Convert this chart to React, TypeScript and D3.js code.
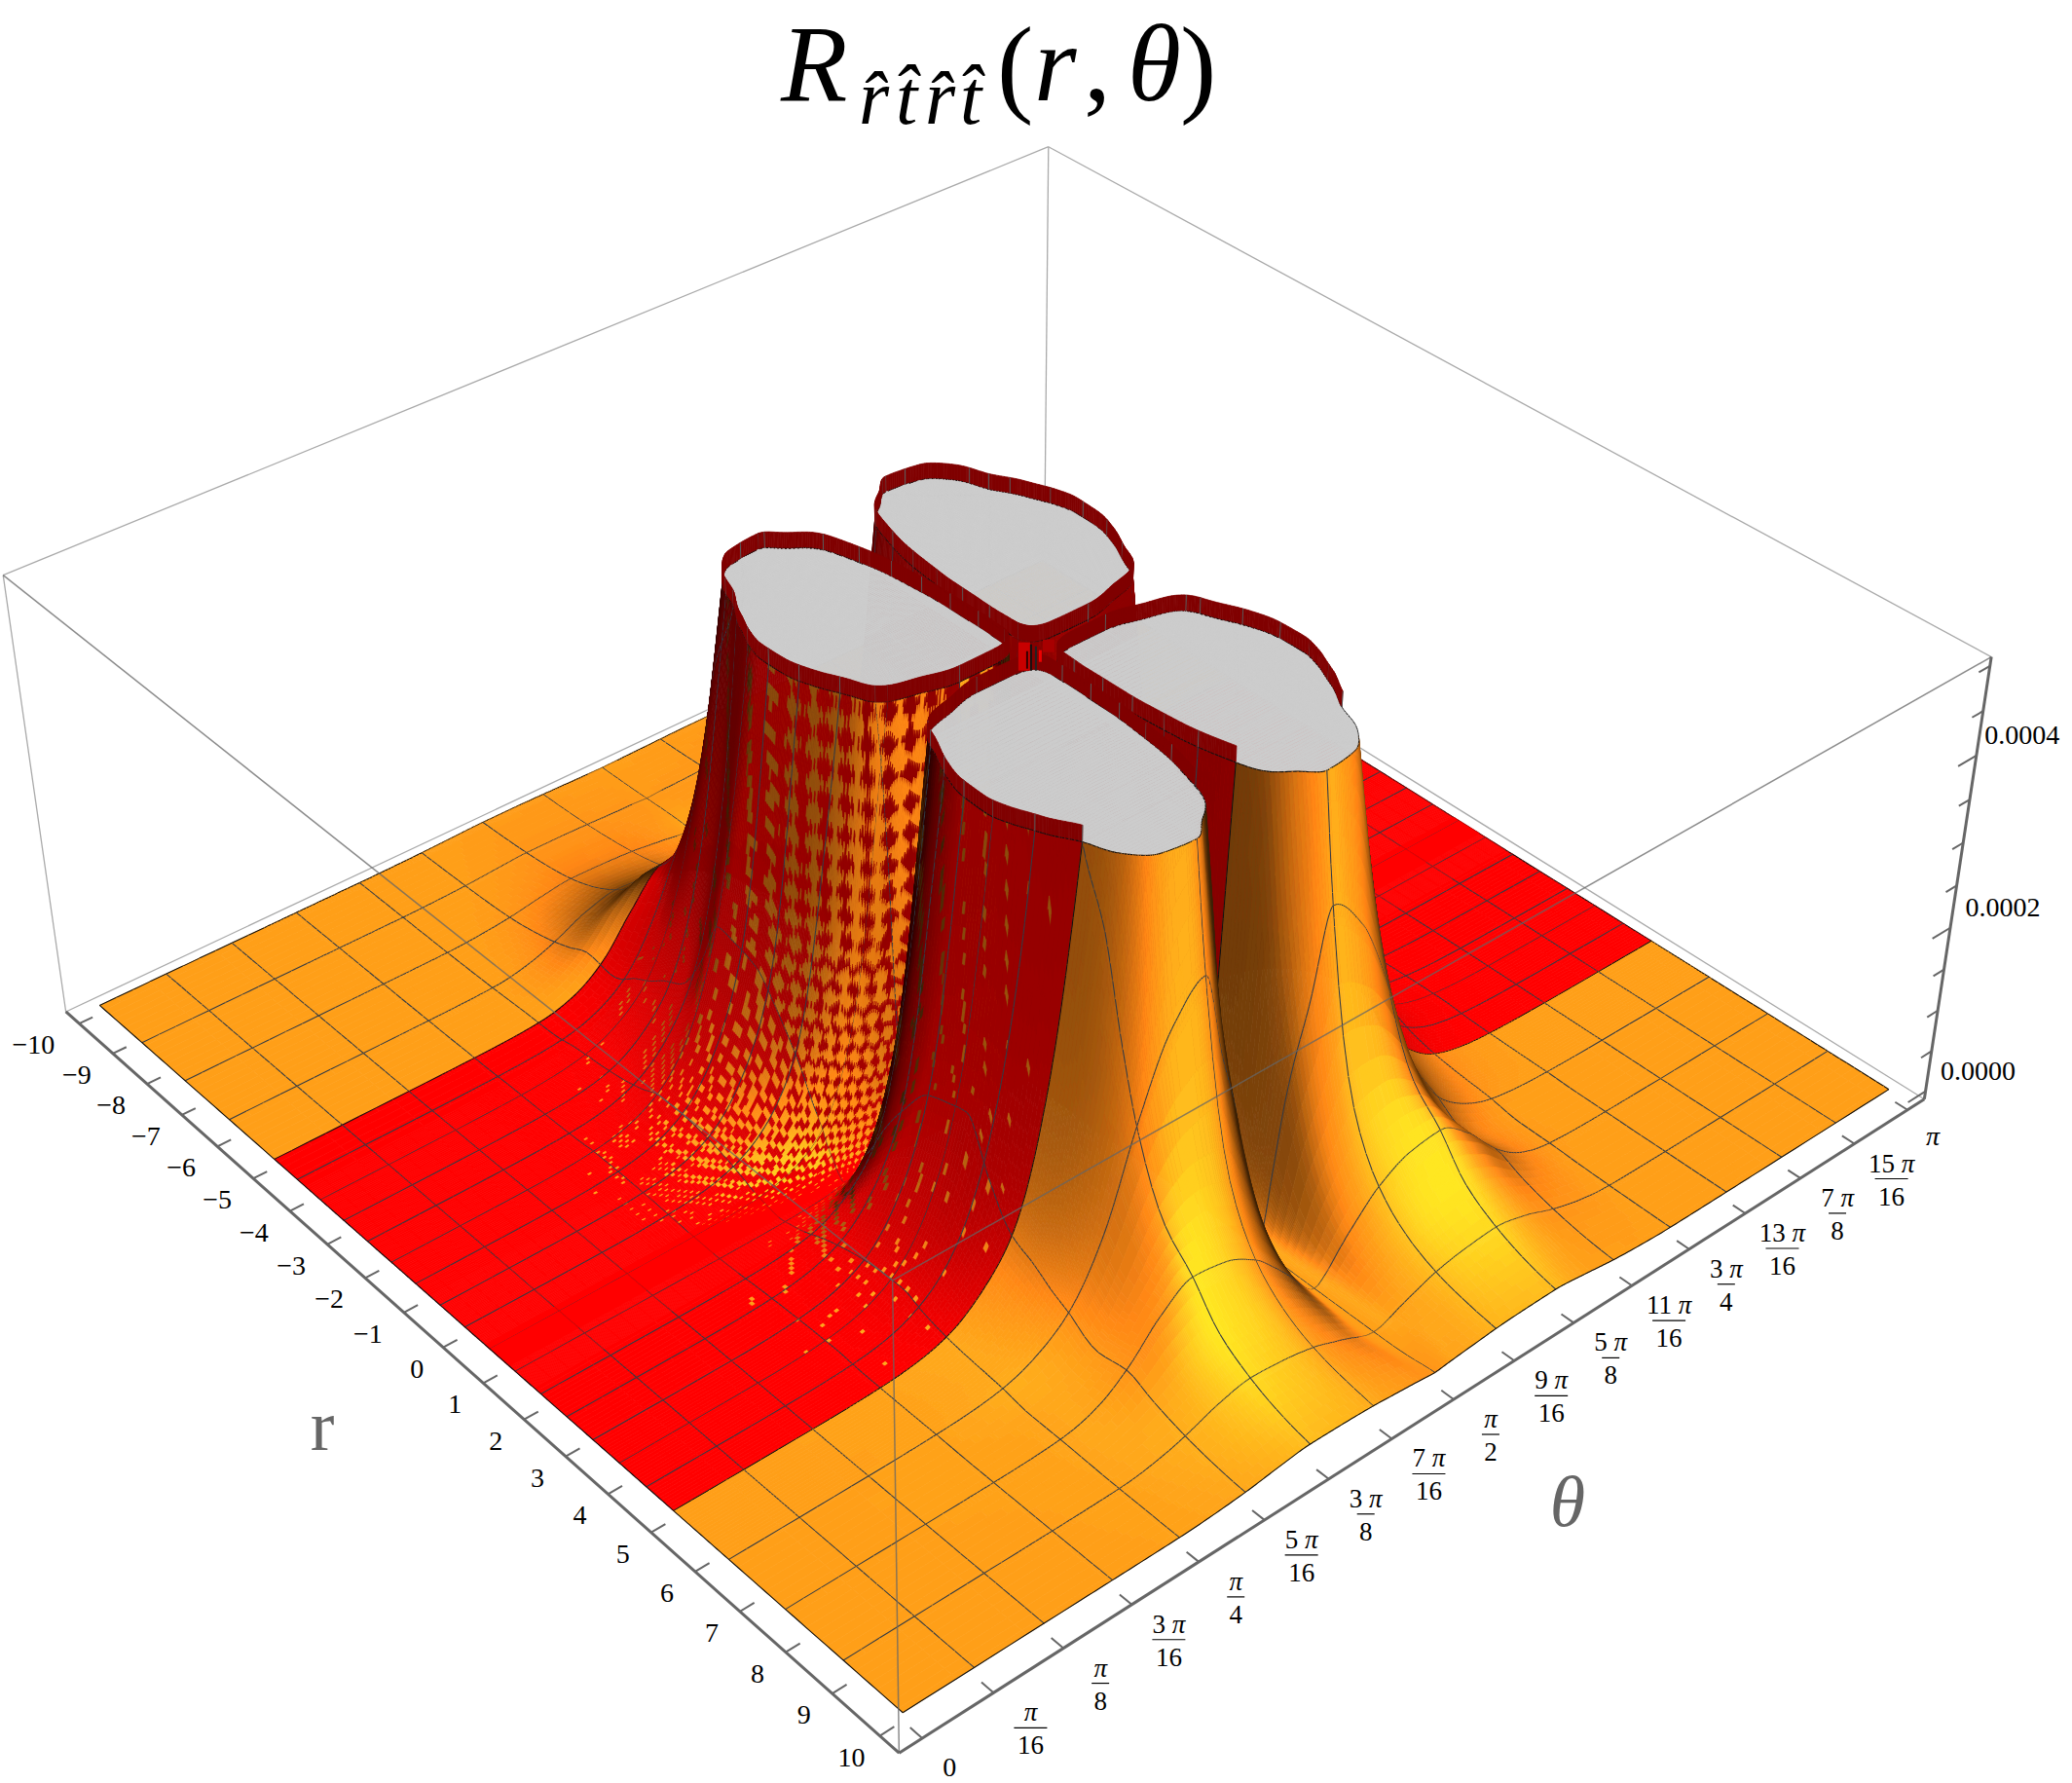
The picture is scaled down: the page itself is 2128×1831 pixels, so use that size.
import React, { useEffect, useRef } from "react";
import * as d3 from "d3";

// ---- values (z in units of 1e-4) ----
const rTicks = d3.range(-10, 11);
const thetaTickLabels: string[][] = [["0"],["π","16"],["π","8"],["3 π","16"],["π","4"],["5 π","16"],["3 π","8"],["7 π","16"],["π","2"],["9 π","16"],["5 π","8"],["11 π","16"],["3 π","4"],["13 π","16"],["7 π","8"],["15 π","16"],["π"]];
const zTickValues = [0, 0.5, 1, 1.5, 2, 2.5, 3, 3.5, 4, 4.5, 5];
const zLabels: [number, string][] = [[0, "0.0000"], [2, "0.0002"], [4, "0.0004"]];

const clipZ = 5;
const rimZ = 0.18;
const valleyR = 1.1; // the towers are centred here

// distance from theta = pi/2, in units of pi/16
const dColumns = [0, 0.05, 0.1, 0.2, 0.4, 0.7, 1, 1.5, 2, 2.5, 3, 3.5, 4, 5, 6, 8];
// distance from the valley in r
const xRows = [0, 0.05, 0.1, 0.2, 0.35, 0.5, 0.7, 1, 1.5, 2, 2.5, 2.9, 3.4, 3.9, 4.4, 4.8, 5.15, 5.8, 6.4, 7, 7.65, 8.9, 11.1];
const h00 = [.002,.002,.002,.002,.002,.002,.002,.002,.002,.002,.002,.002,.002,.002,.002,.002];
const h01 = [.002,.25,.5,.8,.9,.9,.9,.5,.25,.1,.03,.01,.004,.002,.002,.002];
const h02 = [.002,.8,1.6,2.5,3,3,3,1.8,.7,.2,.06,.02,.008,.002,.002,.002];
const h03 = [.002,1.5,2.8,4,5,5.2,5.2,3,1.5,.55,.15,.05,.02,.005,.002,.002];
const h04 = [.003,2.5,4,6,8,9,9,5.2,3.3,1.1,.3,.11,.04,.008,.003,.002];
const h05 = [.003,3,5,7.5,11,12,12,7.5,4.5,1.6,.5,.17,.06,.012,.004,.002];
const h06 = [.003,3.2,5.2,8.5,13,15,15,10,5.5,2.2,.7,.28,.1,.018,.005,.002];
const h07 = [.004,3.4,5.5,9,14,18,18,12,6.2,3,1.05,.42,.17,.03,.007,.002];
const h08 = [.004,3.2,5.2,8.5,14,20,20,14,7.5,4,1.5,.65,.26,.045,.01,.003];
const h09 = [.004,3,5,8,13,20,22,16,8.5,4.6,1.85,.8,.32,.055,.011,.003];
const h10 = [.004,2.2,4,7,12,18,22,16,8.5,4.7,1.95,.85,.35,.06,.012,.003];
const h11 = [.004,1.8,3.2,6,10,16,20,15,8,4.3,2,.85,.35,.06,.012,.003];
const h12 = [.004,1.2,2.2,4.5,8,13,16,14,7,3.2,1.4,.6,.25,.04,.01,.002];
const h13 = [.004,.8,1.4,3,6,9,11,9,5,2.3,.95,.45,.18,.03,.008,.002];
const h14 = [.004,.4,.9,1.9,4.2,6,7,6.5,4.2,1.9,.8,.35,.14,.025,.007,.002];
const h14b = [.004,.12,.35,.9,2.4,4,5.4,5,3.1,1.5,.65,.29,.12,.022,.006,.002];
const h15 = [.003,.05,.17,.7,1.7,2.6,3.6,3.2,2.3,1.2,.55,.25,.1,.02,.006,.002];
const h16 = [.003,.02,.07,.25,.68,1.15,1.5,1.6,1.4,.85,.35,.13,.045,.01,.004,.002];
const h17 = [.003,.012,.04,.12,.32,.58,.8,1,1.05,.8,.4,.14,.04,.007,.003,.002];
const h18 = [.003,.008,.02,.07,.19,.34,.47,.58,.62,.5,.27,.1,.025,.004,.002,.002];
const h19 = [.003,.006,.012,.04,.11,.2,.28,.35,.38,.3,.16,.06,.014,.003,.002,.002];
const h20 = [.05,.052,.056,.065,.08,.1,.12,.135,.14,.1,.05,.02,.005,.002,.002,.002];
const h21 = [.01,.01,.011,.012,.016,.02,.025,.03,.03,.02,.01,.004,.002,.002,.002,.002];
const heightRows = [h00,h01,h02,h03,h04,h05,h06,h07,h08,h09,h10,h11,h12,h13,h14,h14b,h15,h16,h17,h18,h19,h20,h21];

// share of orange cells in the interference pattern, by r
const moireR = [-5, -3.5, -2, -1, 0, 0.6, 1.1, 2, 3, 5];
const moireM = [0, 0.03, 0.08, 0.26, 0.55, 0.6, 0.48, 0.14, 0.08, 0];

// torn bits at the very centre: dx, dy, width, height, colour
const centerBits: [number, number, number, number, string][] = [
  [-15, -14, 12, 29, "#c80000"], [10, -17, 12, 13, "#a80000"], [-3, -12, 2, 27, "#111111"],
  [2, -10, 2, 25, "#222222"], [-7, -5, 2, 18, "#330000"], [6, -6, 3, 12, "#ee0000"],
];

// mesh lines
const orangeMeshR = [-8.75, -7.5, -6.25, 6.25, 7.5, 8.75];
const redMeshR = d3.range(1, 16).map((k) => -5 + 0.625 * k);
const bandEdgesR = [-5, 5];
const meshK = d3.range(1, 16);

// box corners in the picture, [U, V, W, x, y]
const S = 2128 / 1568;
const boxCorners = [
  [0, 0, 0, 50, 765], [1, 0, 0, 681, 1327], [1, 1, 0, 1456, 832], [0, 1, 0, 790, 417],
  [0, 0, 1, 2, 436], [1, 0, 1, 675, 968], [1, 1, 1, 1507, 497], [0, 1, 1, 794, 111],
];

const rScale = d3.scaleLinear().domain([-10.4, 10.4]).range([0, 1]);
const kScale = d3.scaleLinear().domain([-0.32, 16.32]).range([0, 1]);
const zScale = d3.scaleLinear().domain([-0.1, 5.1]).range([0, 1]);

function solve(A: number[][], b: number[]) {
  const n = b.length;
  const M = A.map((r, i) => [...r, b[i]]);
  for (let c = 0; c < n; c++) {
    let p = c;
    for (let i = c + 1; i < n; i++) if (Math.abs(M[i][c]) > Math.abs(M[p][c])) p = i;
    [M[c], M[p]] = [M[p], M[c]];
    for (let i = 0; i < n; i++) {
      if (i === c) continue;
      const f = M[i][c] / M[c][c];
      for (let j = c; j <= n; j++) M[i][j] -= f * M[c][j];
    }
  }
  return M.map((r, i) => r[n] / r[i]);
}
function fitCamera() {
  const rows: number[][] = [];
  const rhs: number[] = [];
  for (const [U, V, W, x0, y0] of boxCorners) {
    const x = x0 * S, y = y0 * S;
    rows.push([U, V, W, 1, 0, 0, 0, 0, -x * U, -x * V, -x * W]); rhs.push(x);
    rows.push([0, 0, 0, 0, U, V, W, 1, -y * U, -y * V, -y * W]); rhs.push(y);
  }
  const AtA = d3.range(11).map((i) => d3.range(11).map((j) => d3.sum(rows, (r) => r[i] * r[j])));
  const Atb = d3.range(11).map((i) => d3.sum(rows, (r, n) => r[i] * rhs[n]));
  return solve(AtA, Atb);
}
const cam = fitCamera();
function project(r: number, k: number, z: number): [number, number] {
  const U = rScale(r), V = kScale(k), W = zScale(z);
  const w = cam[8] * U + cam[9] * V + cam[10] * W + 1;
  return [(cam[0] * U + cam[1] * V + cam[2] * W + cam[3]) / w, (cam[4] * U + cam[5] * V + cam[6] * W + cam[7]) / w];
}
const f1 = (v: number) => Math.round(v * 10) / 10;

function slopes(xs: number[], ys: number[]) {
  const n = xs.length;
  const h: number[] = [], del: number[] = [];
  for (let i = 0; i < n - 1; i++) { h.push(xs[i + 1] - xs[i]); del.push((ys[i + 1] - ys[i]) / h[i]); }
  const m = new Array(n).fill(0);
  m[0] = del[0]; m[n - 1] = del[n - 2];
  for (let i = 1; i < n - 1; i++) {
    if (del[i - 1] * del[i] > 0) {
      const w1 = 2 * h[i] + h[i - 1], w2 = h[i] + 2 * h[i - 1];
      m[i] = (w1 + w2) / (w1 / del[i - 1] + w2 / del[i]);
    }
  }
  return m;
}
function hermite(xs: number[], ys: number[], m: number[], x: number) {
  let i = d3.bisectRight(xs, x) - 1;
  i = Math.max(0, Math.min(xs.length - 2, i));
  const h = xs[i + 1] - xs[i], t = Math.min(1, (x - xs[i]) / h);
  const t2 = t * t, t3 = t2 * t;
  return (2 * t3 - 3 * t2 + 1) * ys[i] + (t3 - 2 * t2 + t) * h * m[i] + (-2 * t3 + 3 * t2) * ys[i + 1] + (t3 - t2) * h * m[i + 1];
}
const logRows = heightRows.map((row) => row.map((v) => Math.log(v)));
const rowSlopes = logRows.map((row) => slopes(dColumns, row));
function logField(rv: number[], kv: number[]) {
  const columns = kv.map((k) => {
    const d = Math.abs(k - 8);
    const vals = logRows.map((row, i) => hermite(dColumns, row, rowSlopes[i], d));
    return { vals, m: slopes(xRows, vals) };
  });
  return rv.map((r) => {
    const x = Math.abs(r - valleyR);
    return columns.map((col) => hermite(xRows, col.vals, col.m, x));
  });
}

function buildGrid() {
  const rs = new Set<number>();
  const addR = (a: number, b: number, s: number) => d3.range(a, b, s).forEach((v) => { if (v >= -10 && v <= 10) rs.add(Math.round(v * 1e4) / 1e4); });
  const c = valleyR;
  addR(c - 0.6, c, 0.006); addR(c, c + 0.6, 0.02);
  addR(c - 2, c - 0.6, 0.025); addR(c + 0.6, c + 2, 0.08);
  addR(c - 5.2, c - 2, 0.04); addR(c + 2, c + 5.2, 0.06);
  addR(-10, c - 5.2, 0.15); addR(c + 5.2, 10, 0.15);
  [...orangeMeshR, ...redMeshR, ...bandEdgesR, -10, 10].forEach((v) => rs.add(v));
  const rv = [...rs].sort(d3.ascending);
  const ks = new Set<number>();
  const addD = (a: number, b: number, s: number) => d3.range(a, b, s).forEach((d) => { ks.add(Math.round((8 + d) * 1e4) / 1e4); ks.add(Math.round((8 - d) * 1e4) / 1e4); });
  addD(0, 0.25, 0.01); addD(0.25, 0.8, 0.04); addD(0.8, 1.4, 0.03); addD(1.4, 3, 0.02); addD(3, 5.5, 0.05); addD(5.5, 8, 0.25);
  d3.range(0, 17).forEach((k) => ks.add(k));
  const kv = [...ks].filter((k) => k >= 0 && k <= 16).sort(d3.ascending);
  const z = logField(rv, kv).map((row) => row.map(Math.exp));
  return { rv, kv, z };
}

// smooth gradient of the log height, on a coarse lattice, in box units
const latR = d3.range(-10, 10.001, 0.2);
const latK = d3.range(0, 16.001, 0.1);
function gradientLattice() {
  const L = logField(latR, latK);
  const R = latR.length, K = latK.length;
  let gr = L.map((row) => row.map(() => 0));
  let gk = L.map((row) => row.map(() => 0));
  for (let i = 0; i < R; i++) for (let j = 0; j < K; j++) {
    const i0 = Math.max(0, i - 1), i1 = Math.min(R - 1, i + 1), j0 = Math.max(0, j - 1), j1 = Math.min(K - 1, j + 1);
    gr[i][j] = (L[i1][j] - L[i0][j]) / (latR[i1] - latR[i0]) * 20.8;
    gk[i][j] = (L[i][j1] - L[i][j0]) / (latK[j1] - latK[j0]) * 16.64;
  }
  const blur = (g: number[][]) => g.map((row, i) => row.map((_, j) => {
    let s = 0, n = 0;
    for (let a = Math.max(0, i - 1); a <= Math.min(R - 1, i + 1); a++) for (let b = Math.max(0, j - 1); b <= Math.min(K - 1, j + 1); b++) { s += g[a][b]; n++; }
    return s / n;
  }));
  for (let p = 0; p < 3; p++) { gr = blur(gr); gk = blur(gk); }
  return { gr, gk };
}
function sampleLat(g: number[][], r: number, k: number) {
  const u = Math.min(latR.length - 1.001, Math.max(0, (r + 10) / 0.2)), v = Math.min(latK.length - 1.001, Math.max(0, k / 0.1));
  const i = Math.floor(u), j = Math.floor(v), a = u - i, b = v - j;
  return (1 - a) * ((1 - b) * g[i][j] + b * g[i][j + 1]) + a * ((1 - b) * g[i + 1][j] + b * g[i + 1][j + 1]);
}

type V = [number, number, number];
function clipBand(poly: V[], lim: number, keepBelow: boolean): V[] {
  const out: V[] = [];
  const inside = (v: V) => (keepBelow ? v[2] <= lim : v[2] >= lim);
  for (let i = 0; i < poly.length; i++) {
    const a = poly[i], b = poly[(i + 1) % poly.length];
    const ia = inside(a), ib = inside(b);
    if (ia) out.push(a);
    if (ia !== ib) {
      const t = (lim - a[2]) / (b[2] - a[2]);
      out.push([a[0] + t * (b[0] - a[0]), a[1] + t * (b[1] - a[1]), lim]);
    }
  }
  return out;
}
function orange(t: number): [number, number, number] {
  const v = Math.max(0.2, t);
  if (v <= 1) return [255 * Math.min(1, v / 0.85), 160 * v, 25 * v];
  const s = Math.min(1, (v - 1) / 0.38);
  return [255, 160 + 78 * s, 25 + 10 * s];
}
function red(t: number, nz: number): [number, number, number] {
  const base = 0.5 + 0.5 * Math.pow(nz, 0.8);
  const f = Math.min(1, Math.max(0.3, 0.55 + 1.3 * t));
  return [255 * base * f, 0, 0];
}
const q3 = (c: number[]) => `rgb(${Math.round(c[0] / 3) * 3},${Math.round(c[1] / 3) * 3},${Math.round(c[2] / 3) * 3})`;
const mixAt = d3.scaleLinear().domain(moireR).range(moireM).clamp(true);
const tri = (v: number) => Math.abs(v - Math.round(v));

type Item = { d: string; fill: string; stroke: string; w: number };

function buildItems(): Item[] {
  const { rv, kv, z } = buildGrid();
  const { gr, gk } = gradientLattice();
  const items: Item[] = [];
  const polyPath = (poly: V[]) => {
    let s = "";
    poly.forEach((v, i) => { const p = project(v[0], v[1], v[2]); s += (i ? "L" : "M") + f1(p[0]) + " " + f1(p[1]); });
    return s + "Z";
  };
  const addFill = (poly: V[], fill: string) => {
    if (poly.length < 3) return;
    const d = polyPath(poly);
    const last = items[items.length - 1];
    if (last && last.fill === fill) last.d += d;
    else items.push({ d, fill, stroke: fill, w: 0.7 });
  };
  const MESH = "#333b45", BLACK = "#111111", RIM = "#800000";
  const addSeg = (a: V, b: V, lo: number, hi: number, style: string, w: number) => {
    let t0 = 0, t1 = 1;
    const dz = b[2] - a[2];
    if (dz !== 0) {
      const tl = (lo - a[2]) / dz, th = (hi - a[2]) / dz;
      t0 = Math.max(t0, Math.min(tl, th)); t1 = Math.min(t1, Math.max(tl, th));
    } else if (a[2] < lo || a[2] > hi) return;
    if (t1 <= t0) return;
    const pa = project(a[0] + t0 * (b[0] - a[0]), a[1] + t0 * (b[1] - a[1]), a[2] + t0 * dz);
    const pb = project(a[0] + t1 * (b[0] - a[0]), a[1] + t1 * (b[1] - a[1]), a[2] + t1 * dz);
    items.push({ d: `M${f1(pa[0])} ${f1(pa[1])}L${f1(pb[0])} ${f1(pb[1])}`, fill: "none", stroke: style, w });
  };
  const cross = (a: V, b: V): V => {
    const t = (clipZ - a[2]) / (b[2] - a[2]);
    return [a[0] + t * (b[0] - a[0]), a[1] + t * (b[1] - a[1]), clipZ];
  };
  const rimTick = (a: V, b: V) => {
    if ((a[2] > clipZ) === (b[2] > clipZ)) return;
    const p = cross(a, b);
    const q = project(p[0], p[1], clipZ), s = project(p[0], p[1], clipZ + rimZ);
    items.push({ d: `M${f1(q[0])} ${f1(q[1])}L${f1(s[0])} ${f1(s[1])}`, fill: "none", stroke: "#5a5a5a", w: 1 });
  };
  const isIn = (arr: number[], v: number) => arr.some((x) => Math.abs(x - v) < 1e-6);
  const meshRowStyle = rv.map((r) => (isIn(bandEdgesR, r) || r === -10 ? 2 : isIn(orangeMeshR, r) || isIn(redMeshR, r) ? 1 : 0));
  const meshColStyle = kv.map((k) => (k === 16 ? 2 : isIn(meshK, k) ? 1 : 0));
  const sz = (0.4 / 5.2);

  for (let i = 0; i < rv.length - 1; i++) {
    const r0 = rv[i], r1 = rv[i + 1];
    const rm = (r0 + r1) / 2;
    const isRed = Math.abs(rm) < 5;
    for (let j = kv.length - 2; j >= 0; j--) {
      const k0 = kv[j], k1 = kv[j + 1];
      const za = z[i][j], zb = z[i + 1][j], zc = z[i + 1][j + 1], zd = z[i][j + 1];
      const A: V = [r0, k0, za], B: V = [r1, k0, zb], C: V = [r1, k1, zc], D: V = [r0, k1, zd];
      const pa = project(r0, k0, Math.min(za, 7)), pb = project(r1, k0, Math.min(zb, 7)), pc = project(r1, k1, Math.min(zc, 7)), pd = project(r0, k1, Math.min(zd, 7));
      const area = (pa[0] * pb[1] - pb[0] * pa[1]) + (pb[0] * pc[1] - pc[0] * pb[1]) + (pc[0] * pd[1] - pd[0] * pc[1]) + (pd[0] * pa[1] - pa[0] * pd[1]);
      const zMax = Math.max(za, zb, zc, zd), zMin = Math.min(za, zb, zc, zd);
      const back = area > 0 && zMax >= 1.2;
      const poly: V[] = [A, B, C, D];
      if (zMax > clipZ) {
        const cap = clipBand(poly, clipZ, false).map((v) => [v[0], v[1], clipZ] as V);
        addFill(cap, "#cccccc");
      }
      if (zMin < clipZ && !back) {
        const km = (k0 + k1) / 2;
        const zm = (za + zb + zc + zd) / 4;
        const dzr = sampleLat(gr, rm, km) * zm * sz;
        const dzk = sampleLat(gk, rm, km) * zm * sz;
        const len = Math.sqrt(dzr * dzr + dzk * dzk + 1);
        const nr = -dzr / len, nk = -dzk / len, nz = 1 / len;
        const h = Math.sqrt(nr * nr + nk * nk) || 1e-6;
        const lit = nr > 0 ? h * Math.pow(nr / h, 2.9) : nr;
        const t = 0.1 + 0.9 * nz + 0.85 * lit - 0.25 * nk;
        let col: number[];
        if (isRed) {
          const fade = Math.max(0, Math.min(1, (zm - 0.015) / 0.2)) * (km < 8 && km > 2.5 ? 1 : 0);
          const m = mixAt(rm) * fade;
          let on = false;
          if (m > 0) {
            const u = 12 * Math.sqrt(Math.min(zm, clipZ));
            const zq = Math.pow(Math.round(u) / 12, 2);
            const P = 6 + 16 * Math.min(1, zq / 2.5);
            const px = project(rm, km, Math.min(zm, clipZ))[0];
            const a = tri(u), b = tri(px / P);
            if (m < 0.2) on = a < 0.35 && b < m / 1.4;
            else on = a + b < (m < 0.5 ? Math.sqrt(m / 2) : 1 - Math.sqrt((1 - m) / 2));
          }
          col = on ? orange(t) : red(t, nz);
        } else col = orange(t);
        addFill(clipBand(poly, clipZ, true), q3(col));
      }
      if (zMax > clipZ && zMin < clipZ) {
        const pts: V[] = [];
        for (let e = 0; e < 4; e++) {
          const a = poly[e], b = poly[(e + 1) % 4];
          if ((a[2] > clipZ) !== (b[2] > clipZ)) pts.push(cross(a, b));
        }
        for (let n = 0; n + 1 < pts.length; n += 2) {
          const p = pts[n], q = pts[n + 1];
          if (isRed) addFill([p, q, [q[0], q[1], clipZ + rimZ], [p[0], p[1], clipZ + rimZ]], RIM);
          const a2 = project(p[0], p[1], clipZ), b2 = project(q[0], q[1], clipZ);
          items.push({ d: `M${f1(a2[0])} ${f1(a2[1])}L${f1(b2[0])} ${f1(b2[1])}`, fill: "none", stroke: BLACK, w: 1.1 });
        }
      }
      const lo = back ? clipZ : -1;
      if (meshRowStyle[i]) {
        addSeg(A, D, lo, clipZ, meshRowStyle[i] === 2 ? BLACK : MESH, 1.05);
        if (isRed) rimTick(A, D);
      }
      if (meshColStyle[j + 1]) {
        addSeg(D, C, lo, clipZ, meshColStyle[j + 1] === 2 ? BLACK : MESH, 1.05);
        if (isRed) rimTick(D, C);
      }
    }
  }
  // near edges of the surface
  const nR = rv.length - 1;
  const e1 = d3.range(kv.length).map((j) => project(10, kv[j], Math.min(clipZ, z[nR][j])));
  const e2 = d3.range(rv.length).map((i) => project(rv[i], 0, Math.min(clipZ, z[i][0])));
  const ln = d3.line();
  items.push({ d: ln(e1 as any) as string, fill: "none", stroke: BLACK, w: 1.1 });
  items.push({ d: ln(e2 as any) as string, fill: "none", stroke: BLACK, w: 1.1 });
  // the torn centre
  const c0 = project(valleyR, 8, clipZ);
  centerBits.forEach(([dx, dy, w, h, col]) => {
    const x = f1(c0[0] + dx), y = f1(c0[1] + dy);
    items.push({ d: `M${x} ${y}h${w}v${h}h${-w}Z`, fill: col, stroke: "none", w: 0 });
  });
  return items;
}

const corner = (r: number, k: number, z: number) => project(r, k, z);
const R0 = -10.4, R1 = 10.4, K0 = -0.32, K1 = 16.32, Z0 = -0.1, Z1 = 5.1;
const segD = (a: [number, number], b: [number, number]) => `M${a[0]} ${a[1]}L${b[0]} ${b[1]}`;
const BACK_EDGES = [
  [corner(R0, K0, Z1), corner(R0, K1, Z1)], [corner(R0, K1, Z1), corner(R1, K1, Z1)], [corner(R0, K1, Z1), corner(R0, K1, Z0)],
  [corner(R0, K0, Z0), corner(R0, K1, Z0)], [corner(R1, K1, Z0), corner(R0, K1, Z0)],
  [corner(R0, K0, Z1), corner(R0, K0, Z0)], [corner(R1, K1, Z1), corner(R1, K1, Z0)],
];
const FRONT_EDGES = [
  [corner(R0, K0, Z1), corner(R1, K0, Z1)], [corner(R1, K0, Z1), corner(R1, K1, Z1)], [corner(R1, K0, Z1), corner(R1, K0, Z0)],
];

export default function App() {
  const ref = useRef<SVGGElement>(null);
  useEffect(() => {
    const items = buildItems();
    d3.select(ref.current).selectAll("path").data(items).join("path")
      .attr("d", (d: Item) => d.d)
      .attr("fill", (d: Item) => d.fill)
      .attr("stroke", (d: Item) => d.stroke)
      .attr("stroke-width", (d: Item) => d.w)
      .attr("stroke-linejoin", "round");
  }, []);
  const serif = "'Liberation Serif', serif";
  const tickLen = 0.012;
  return (
    <svg width={2128} height={1831} viewBox="0 0 2128 1831" style={{ position: "absolute", left: 0, top: 0, display: "block" }} fontFamily={serif}>
      <rect width={2128} height={1831} fill="#ffffff" />
      {BACK_EDGES.map((e, i) => <path key={i} d={segD(e[0], e[1])} stroke="#aaaaaa" strokeWidth={1.3} fill="none" />)}
      <g ref={ref} />
      {FRONT_EDGES.map((e, i) => <path key={i} d={segD(e[0], e[1])} stroke="#666666" strokeOpacity={0.75} strokeWidth={1.5} fill="none" />)}
      {/* axes */}
      <g stroke="#666666" fill="none">
        <path d={segD(corner(R0, K0, Z0), corner(R1, K0, Z0))} strokeWidth={3} />
        <path d={segD(corner(R1, K0, Z0), corner(R1, K1, Z0))} strokeWidth={3} />
        <path d={segD(corner(R1, K1, Z0), corner(R1, K1, Z1))} strokeWidth={3} />
        {rTicks.map((r) => <path key={r} strokeWidth={2} d={segD(corner(r, K0, Z0), corner(r, K0 + tickLen * 16.64, Z0))} />)}
        {thetaTickLabels.map((_, k) => <path key={k} strokeWidth={2} d={segD(corner(R1, k, Z0), corner(R1 - tickLen * 20.8, k, Z0))} />)}
        {zTickValues.map((z) => <path key={z} strokeWidth={2} d={segD(corner(R1, K1, z), corner(R1, K1 - (z % 2 === 0 ? 0.02 : 0.012) * 16.64, z))} />)}
      </g>
      {/* tick labels */}
      <g fontSize={28} fill="#000" textAnchor="middle">
        {rTicks.map((r) => {
          const p = corner(r, K0, Z0);
          const dx = r === 0 ? -27 : r > 0 ? -29 : r === -10 ? -47 : -37;
          return <text key={r} x={p[0] + dx} y={p[1] + 31}>{r < 0 ? "−" + -r : r}</text>;
        })}
        {zLabels.map(([z, s]) => {
          const p = corner(R1, K1, z);
          return <text key={s} x={p[0] + (z === 4 ? 47 : 54)} y={p[1] - 12}>{s}</text>;
        })}
        {thetaTickLabels.map((lab, k) => {
          const p = corner(R1, k, Z0);
          if (lab.length === 1) {
            const bx = k === 0 ? 28 : 26;
            const by = k === 0 ? 39 : 36;
            return <text key={k} x={p[0] + bx} y={p[1] + by} fontStyle={k === 0 ? "normal" : "italic"}>{lab[0]}</text>;
          }
          const cx = p[0] + 38, cy = p[1] + 36;
          const parts = lab[0].split(" ");
          return (
            <g key={k}>
              <text x={cx} y={cy - 7} fontSize={27}>
                {parts.length > 1 ? <tspan>{parts[0]} </tspan> : null}
                <tspan fontStyle="italic">π</tspan>
              </text>
              <path d={`M${cx - (lab[1].length > 1 ? 17 : 9)} ${cy}H${cx + (lab[1].length > 1 ? 17 : 9)}`} stroke="#000" strokeWidth={1.2} />
              <text x={cx} y={cy + 27} fontSize={27}>{lab[1]}</text>
            </g>
          );
        })}
      </g>
      {/* axis labels */}
      <text x={331} y={1489} fontSize={74} fill="#666666" textAnchor="middle">r</text>
      <text x={1610} y={1567} fontSize={74} fill="#666666" textAnchor="middle" fontStyle="italic">θ</text>
      {/* title */}
      <text y={103} fontSize={112} fill="#000" fontStyle="italic">
        <tspan x={802}>R</tspan>
        <tspan x={882} y={127} fontSize={80}>{"r\u0302"}</tspan>
        <tspan x={920} y={127} fontSize={80}>{"t\u0302"}</tspan>
        <tspan x={950} y={127} fontSize={80}>{"r\u0302"}</tspan>
        <tspan x={986} y={127} fontSize={80}>{"t\u0302"}</tspan>
        <tspan x={1024} y={105} fontStyle="normal">(</tspan>
        <tspan x={1062} y={103}>r</tspan>
        <tspan x={1113} y={103} fontStyle="normal">,</tspan>
        <tspan x={1158} y={103}>θ</tspan>
        <tspan x={1212} y={105} fontStyle="normal">)</tspan>
      </text>
    </svg>
  );
}
